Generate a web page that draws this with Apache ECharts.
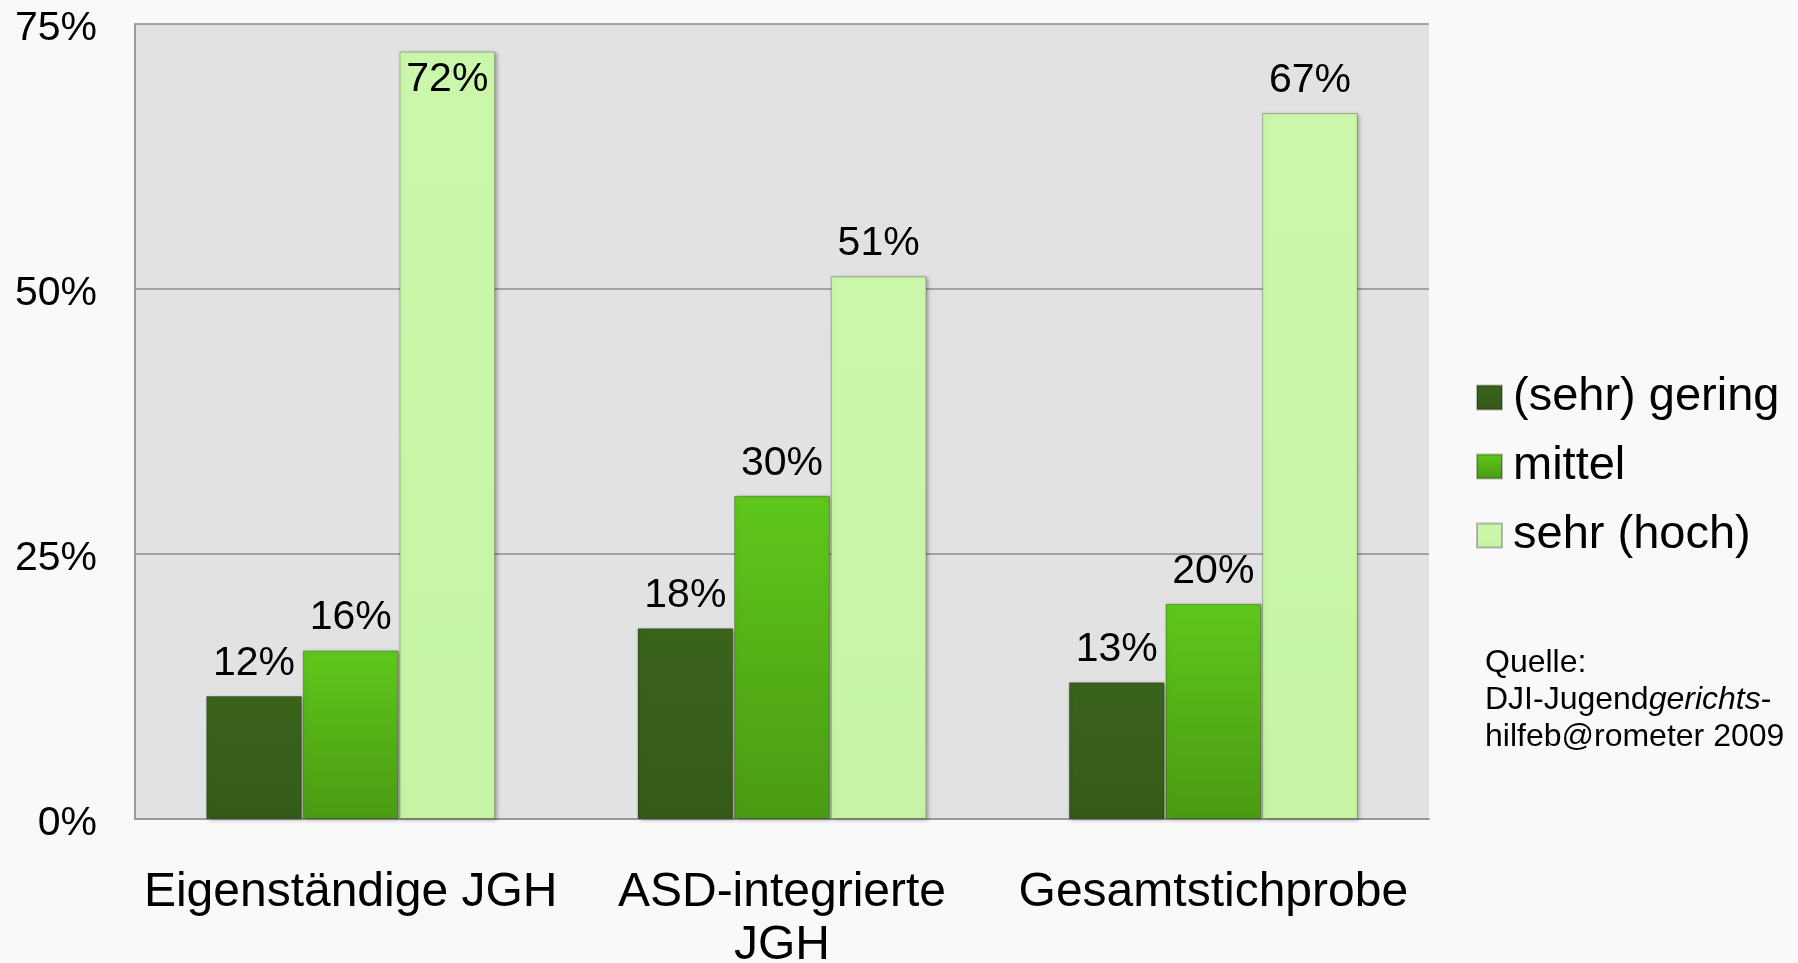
<!DOCTYPE html>
<html>
<head>
<meta charset="UTF-8">
<script src="https://cdn.jsdelivr.net/npm/echarts@6/dist/echarts.min.js"></script>
<style>
  html, body { margin: 0; padding: 0; background: #f9f9f9; }
  #chart { width: 1798px; height: 963px; }
</style>
</head>
<body>
<div id="chart"></div>
<script>
// Daten
var categories = ['Eigenständige JGH', 'ASD-integrierte\nJGH', 'Gesamtstichprobe'];
var seriesNames = ['(sehr) gering', 'mittel', 'sehr (hoch)'];
var gering = [11.6, 18.0, 12.9];
var mittel = [15.9, 30.49, 20.3];
var hoch = [72.4, 51.2, 66.6];
var yTicks = [0, 25, 50, 75];
var sourceLines = ['Quelle:', 'DJI-Jugend{i|gerichts}-', 'hilfeb@rometer 2009'];

var font = "'Liberation Sans', Arial, sans-serif";

function vGrad(top, bottom) {
  return new echarts.graphic.LinearGradient(0, 0, 0, 1, [
    { offset: 0, color: top },
    { offset: 1, color: bottom }
  ]);
}

var colors = [
  vGrad('#3a631c', '#345a18'),
  vGrad('#5fc71b', '#4a9b12'),
  vGrad('#cbf7ab', '#c6f4a4')
];

var labelStyle = {
  show: true,
  position: 'top',
  distance: 12,
  fontSize: 41,
  fontFamily: font,
  color: '#000',
  formatter: function (p) { return Math.round(p.value) + '%'; }
};

function makeData(arr) {
  // Säulen, die fast bis oben reichen, bekommen die Beschriftung innen
  return arr.map(function (v) {
    if (v > 70) {
      return { value: v, label: { position: 'insideTop', distance: 8 } };
    }
    return v;
  });
}

var seriesData = [gering, mittel, hoch];
var series = seriesData.map(function (arr, i) {
  return {
    name: seriesNames[i],
    type: 'bar',
    data: makeData(arr),
    barGap: '1%',
    barCategoryGap: '33%',
    label: labelStyle,
    itemStyle: {
      color: colors[i],
      borderColor: 'rgba(0,0,0,0.25)',
      borderWidth: 1,
      shadowColor: 'rgba(0,0,0,0.3)',
      shadowBlur: 4,
      shadowOffsetX: 2,
      shadowOffsetY: 1
    },
    emphasis: { disabled: true }
  };
});

var chart = echarts.init(document.getElementById('chart'));
var option = {
  backgroundColor: '#f9f9f9',
  animation: false,
  textStyle: { fontFamily: font },
  grid: {
    left: 135,
    top: 24,
    right: 369,
    bottom: 144,
    outerBoundsMode: 'none',
    show: true,
    backgroundColor: '#e2e2e2',
    borderWidth: 0
  },
  legend: {
    orient: 'vertical',
    left: 1471,
    top: 369,
    icon: 'rect',
    itemWidth: 25,
    itemHeight: 24,
    itemGap: 22,
    selectedMode: false,
    data: seriesNames,
    textStyle: {
      fontSize: 47,
      lineHeight: 47,
      color: '#000',
      fontFamily: font,
      padding: [0, 0, 0, 6]
    }
  },
  xAxis: {
    type: 'category',
    data: categories,
    axisTick: { show: false },
    axisLine: { lineStyle: { color: '#999', width: 2 } },
    axisLabel: {
      interval: 0,
      fontSize: 48,
      lineHeight: 53,
      margin: 47,
      color: '#000',
      fontFamily: font
    }
  },
  yAxis: {
    type: 'value',
    min: yTicks[0],
    max: yTicks[yTicks.length - 1],
    interval: 25,
    axisLine: { show: true, lineStyle: { color: '#999', width: 2 } },
    axisTick: { show: false },
    splitLine: { lineStyle: { color: '#8c8c8c', width: 1.5 } },
    axisLabel: {
      formatter: '{t|{value}%}',
      margin: 38,
      rich: {
        t: {
          fontSize: 41,
          color: '#000',
          fontFamily: font,
          padding: [9, 0, 0, 0]
        }
      }
    }
  },
  graphic: [{
    type: 'text',
    left: 1485,
    top: 645,
    style: {
      text: sourceLines.join('\n'),
      fontSize: 32,
      lineHeight: 37,
      fontFamily: font,
      fill: '#000',
      rich: {
        i: { fontSize: 32, lineHeight: 37, fontStyle: 'italic', fontFamily: font, fill: '#000' }
      }
    }
  }],
  series: series
};
chart.setOption(option);
</script>
</body>
</html>
